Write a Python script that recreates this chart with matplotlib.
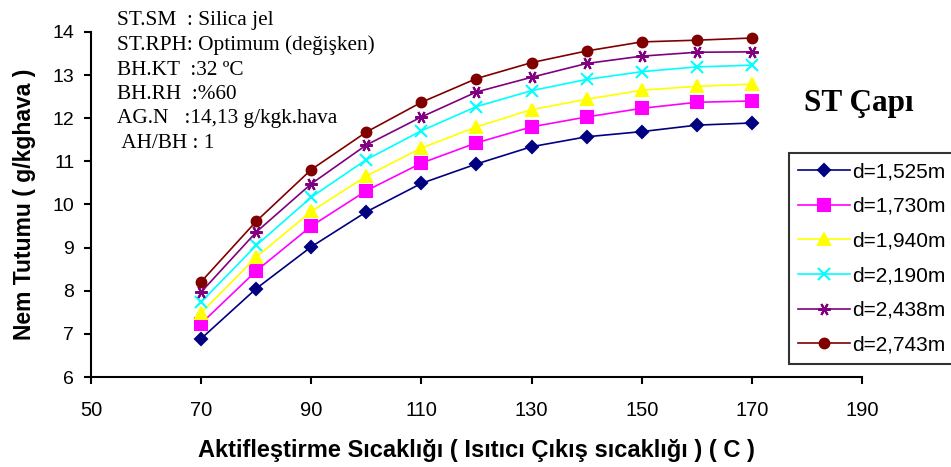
import matplotlib.pyplot as plt

# activation temperature (heater outlet), C
temps = [70, 80, 90, 100, 110, 120, 130, 140, 150, 160, 170]

# moisture removal, g/kg air, one series per wheel diameter
d1525 = [6.89, 8.05, 9.02, 9.83, 10.49, 10.94, 11.34, 11.57, 11.69, 11.84, 11.89]
d1730 = [7.24, 8.46, 9.50, 10.32, 10.96, 11.43, 11.80, 12.03, 12.23, 12.37, 12.40]
d1940 = [7.49, 8.78, 9.84, 10.66, 11.31, 11.80, 12.20, 12.44, 12.65, 12.74, 12.79]
d2190 = [7.74, 9.05, 10.17, 11.04, 11.71, 12.27, 12.64, 12.90, 13.08, 13.19, 13.23]
d2438 = [7.97, 9.36, 10.48, 11.38, 12.03, 12.61, 12.95, 13.27, 13.44, 13.53, 13.54]
d2743 = [8.21, 9.61, 10.81, 11.68, 12.37, 12.92, 13.29, 13.56, 13.77, 13.81, 13.86]

labels = ['d=1,525m', 'd=1,730m', 'd=1,940m', 'd=2,190m', 'd=2,438m', 'd=2,743m']
series = [d1525, d1730, d1940, d2190, d2438, d2743]
colors = ['#000080', '#ff00ff', '#ffff00', '#00ffff', '#800080', '#800000']
markers = ['D', 's', '^', 'x', (6, 2, 90), 'o']
msizes = [6, 8, 8, 8, 9, 7]

plt.rcParams['font.family'] = ['Liberation Sans', 'DejaVu Sans']

fig = plt.figure(figsize=(9.51, 4.67), dpi=100)
ax = fig.add_axes([0.0957, 0.1927, 0.8107, 0.7388])

for y, lab, c, m, ms in zip(series, labels, colors, markers, msizes):
    ax.plot(temps, y, color=c, lw=1.2, marker=m, ms=ms, mew=1.5, label=lab)

ax.set_xlim(50, 190)
ax.set_ylim(6, 14)
ax.set_xticks(range(50, 191, 20))
ax.set_yticks(range(6, 15))
ax.spines['top'].set_visible(False)
ax.spines['right'].set_visible(False)
for s in ['left', 'bottom']:
    ax.spines[s].set_linewidth(1.5)
ax.tick_params(direction='out', length=5, width=1.5)
ax.tick_params(axis='x', labelsize=14.5, pad=12)
ax.tick_params(axis='y', labelsize=14, pad=7)

ax.set_xlabel('Aktifleştirme Sıcaklığı ( Isıtıcı Çıkış sıcaklığı ) ( C )',
              fontsize=17, fontweight='bold', labelpad=14)
ax.set_ylabel('Nem Tutumu ( g/kghava )', fontsize=16.5, fontweight='bold', labelpad=12)

info = ('ST.SM  : Silica jel\n'
        'ST.RPH: Optimum (değişken)\n'
        'BH.KT  :32 ºC\n'
        'BH.RH  :%60\n'
        'AG.N   :14,13 g/kgk.hava\n'
        ' AH/BH : 1')
fig.text(117 / 951, 1 - 11 / 467, info, family='Liberation Serif', fontsize=15.3,
         va='top', ha='left', linespacing=1.38)

fig.text(859 / 951, 1 - 104 / 467, 'ST Çapı', family='Liberation Serif',
         fontsize=22.5, fontweight='bold', ha='center', va='center')

leg = ax.legend(loc='upper left', bbox_to_anchor=(789 / 951, 1 - 153 / 467),
                bbox_transform=fig.transFigure, fontsize=15, frameon=True,
                fancybox=False, edgecolor='black', handlelength=2.5,
                handletextpad=0.1, labelspacing=0.75, borderpad=0.45,
                borderaxespad=0)
leg.get_frame().set_linewidth(1.5)

fig.savefig('out.png', dpi=100)
